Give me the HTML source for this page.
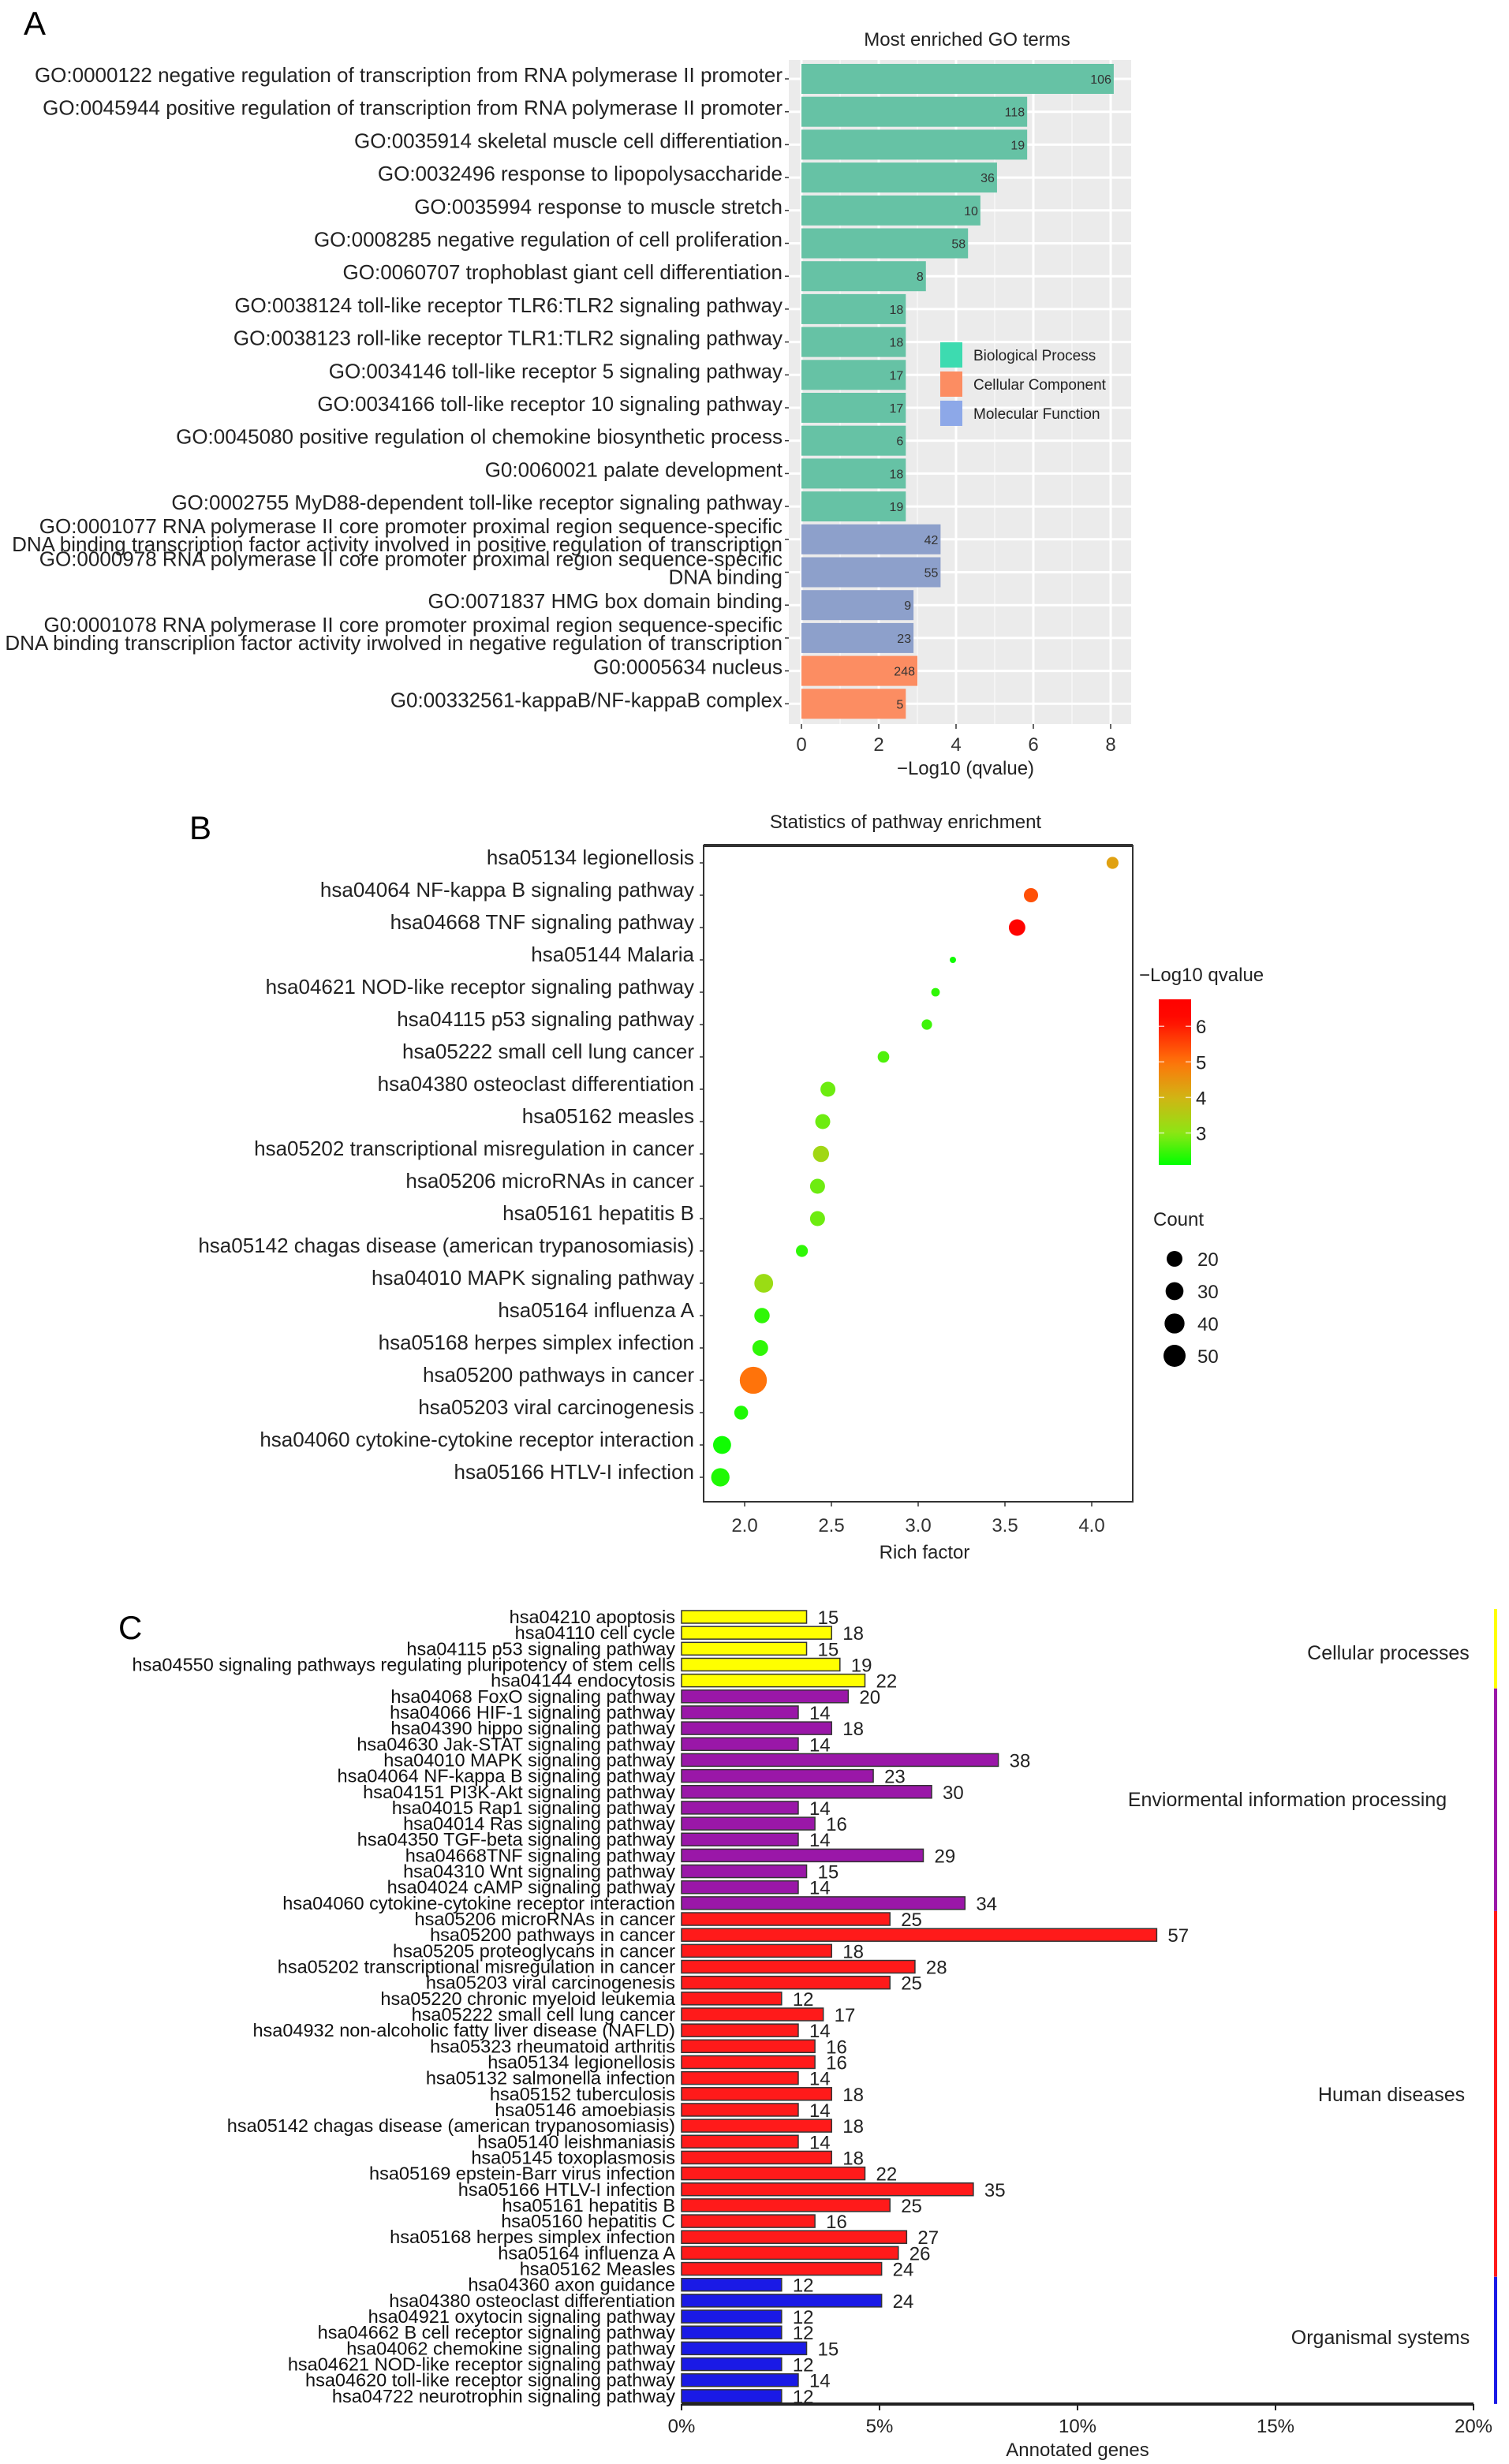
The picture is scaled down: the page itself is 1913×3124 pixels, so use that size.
<!DOCTYPE html>
<html><head><meta charset="utf-8"><style>
html,body{margin:0;padding:0;background:#fff;}
svg{display:block;font-family:"Liberation Sans",sans-serif;}
</style></head><body>
<svg id="fig" width="1913" height="3124" viewBox="0 0 1913 3124" xmlns="http://www.w3.org/2000/svg">
<rect width="1913" height="3124" fill="#fff"/>
<g id="pa"></g>
<g id="pb"></g>
<g id="pc"></g>
</svg>
<script>
// ---------- Panel A data ----------
const goLabels = [
 ["GO:0000122 negative regulation of transcription from RNA polymerase II promoter"],
 ["GO:0045944 positive regulation of transcription from RNA polymerase II promoter"],
 ["GO:0035914 skeletal muscle cell differentiation"],
 ["GO:0032496 response to lipopolysaccharide"],
 ["GO:0035994 response to muscle stretch"],
 ["GO:0008285 negative regulation of cell proliferation"],
 ["GO:0060707 trophoblast giant cell differentiation"],
 ["GO:0038124 toll-like receptor TLR6:TLR2 signaling pathway"],
 ["GO:0038123 roll-like receptor TLR1:TLR2 signaling pathway"],
 ["GO:0034146 toll-like receptor 5 signaling pathway"],
 ["GO:0034166 toll-like receptor 10 signaling pathway"],
 ["GO:0045080 positive regulation ol chemokine biosynthetic process"],
 ["G0:0060021 palate development"],
 ["GO:0002755 MyD88-dependent toll-like receptor signaling pathway"],
 ["GO:0001077 RNA polymerase II core promoter proximal region sequence-specific","DNA binding transcription factor activity involved in positive regulation of transcription"],
 ["GO:0000978 RNA polymerase II core promoter proximal region sequence-specific","DNA binding"],
 ["GO:0071837 HMG box domain binding"],
 ["G0:0001078 RNA polymerase II core promoter proximal region sequence-specific","DNA binding transcriplion factor activity irwolved in negative regulation of transcription"],
 ["G0:0005634 nucleus"],
 ["G0:00332561-kappaB/NF-kappaB complex"]
];
const goValues = [8.08,5.84,5.84,5.06,4.63,4.31,3.22,2.7,2.7,2.7,2.7,2.7,2.7,2.7,3.6,3.6,2.9,2.9,3.0,2.7];
const goCounts = [106,118,19,36,10,58,8,18,18,17,17,6,18,19,42,55,9,23,248,5];
const goTypes = ["BP","BP","BP","BP","BP","BP","BP","BP","BP","BP","BP","BP","BP","BP","MF","MF","MF","MF","CC","CC"];
const goTicks = [0,2,4,6,8];

// ---------- Panel B data ----------
const pwLabels = ["hsa05134 legionellosis","hsa04064 NF-kappa B signaling pathway","hsa04668 TNF signaling pathway","hsa05144 Malaria","hsa04621 NOD-like receptor signaling pathway","hsa04115 p53 signaling pathway","hsa05222 small cell lung cancer","hsa04380 osteoclast differentiation","hsa05162 measles","hsa05202 transcriptional misregulation in cancer","hsa05206 microRNAs in cancer","hsa05161 hepatitis B","hsa05142 chagas disease (american trypanosomiasis)","hsa04010 MAPK signaling pathway","hsa05164 influenza A","hsa05168 herpes simplex infection","hsa05200 pathways in cancer","hsa05203 viral carcinogenesis","hsa04060 cytokine-cytokine receptor interaction","hsa05166 HTLV-I infection"];
const pwRich = [4.12,3.65,3.57,3.20,3.10,3.05,2.80,2.48,2.45,2.44,2.42,2.42,2.33,2.11,2.10,2.09,2.05,1.98,1.87,1.86];
const pwQ = [4.3,5.4,6.6,2.2,2.4,2.5,2.6,2.8,2.8,3.3,2.8,2.8,2.4,3.2,2.4,2.4,5.0,2.3,2.2,2.3];
const pwCount = [17,23,29,2,8,13,16,25,25,28,25,25,17,35,26,27,57,22,33,34];
const pwTicks = [2.0,2.5,3.0,3.5,4.0];
const qTicks = [3,4,5,6];
const countLegend = [20,30,40,50];

// ---------- Panel C data ----------
const kgLabels = ["hsa04210 apoptosis","hsa04110 cell cycle","hsa04115 p53 signaling pathway","hsa04550 signaling pathways regulating pluripotency of stem cells","hsa04144 endocytosis","hsa04068 FoxO signaling pathway","hsa04066 HIF-1 signaling pathway","hsa04390 hippo signaling pathway","hsa04630 Jak-STAT signaling pathway","hsa04010 MAPK signaling pathway","hsa04064 NF-kappa B signaling pathway","hsa04151 PI3K-Akt signaling pathway","hsa04015 Rap1 signaling pathway","hsa04014 Ras signaling pathway","hsa04350 TGF-beta signaling pathway","hsa04668TNF signaling pathway","hsa04310 Wnt signaling pathway","hsa04024 cAMP signaling pathway","hsa04060 cytokine-cytokine receptor interaction","hsa05206 microRNAs in cancer","hsa05200 pathways in cancer","hsa05205 proteoglycans in cancer","hsa05202 transcriptional misregulation in cancer","hsa05203 viral carcinogenesis","hsa05220 chronic myeloid leukemia","hsa05222 small cell lung cancer","hsa04932 non-alcoholic fatty liver disease (NAFLD)","hsa05323 rheumatoid arthritis","hsa05134 legionellosis","hsa05132 salmonella infection","hsa05152 tuberculosis","hsa05146 amoebiasis","hsa05142 chagas disease (american trypanosomiasis)","hsa05140 leishmaniasis","hsa05145 toxoplasmosis","hsa05169 epstein-Barr virus infection","hsa05166 HTLV-I infection","hsa05161 hepatitis B","hsa05160 hepatitis C","hsa05168 herpes simplex infection","hsa05164 influenza A","hsa05162 Measles","hsa04360 axon guidance","hsa04380 osteoclast differentiation","hsa04921 oxytocin signaling pathway","hsa04662 B cell receptor signaling pathway","hsa04062 chemokine signaling pathway","hsa04621 NOD-like receptor signaling pathway","hsa04620 toll-like receptor signaling pathway","hsa04722 neurotrophin signaling pathway"];
const kgCounts = [15,18,15,19,22,20,14,18,14,38,23,30,14,16,14,29,15,14,34,25,57,18,28,25,12,17,14,16,16,14,18,14,18,14,18,22,35,25,16,27,26,24,12,24,12,12,15,12,14,12];
const kgGroups = ["CP","CP","CP","CP","CP","EIP","EIP","EIP","EIP","EIP","EIP","EIP","EIP","EIP","EIP","EIP","EIP","EIP","EIP","HD","HD","HD","HD","HD","HD","HD","HD","HD","HD","HD","HD","HD","HD","HD","HD","HD","HD","HD","HD","HD","HD","HD","OS","OS","OS","OS","OS","OS","OS","OS"];
const kgGroupNames = {CP:"Cellular processes",EIP:"Enviormental information processing",HD:"Human diseases",OS:"Organismal systems"};
const kgTotal = 475;
const kgTicks = [0,5,10,15,20];

const NS="http://www.w3.org/2000/svg";
function mk(parent,tag,attrs,text){const e=document.createElementNS(NS,tag);for(const k in attrs)e.setAttribute(k,attrs[k]);if(text!==undefined)e.textContent=text;parent.appendChild(e);return e;}

// ================= Panel A =================
(function(){
 const g=document.getElementById('pa');
 const t=mk(g,'text',{x:30,y:44,'font-size':42},'A');
 
 
 const x0=1016,ux=49,bgL=1000,bgR=1434,bgT=76,bgB=918;
 const xs=v=>x0+v*ux, ys=i=>100+i*41.7;
 const bg=mk(g,'rect',{x:bgL,y:bgT,width:bgR-bgL,height:bgB-bgT,fill:'#ebebeb'});
 
 
 for(let v=1;v<8.5;v+=2){mk(g,'line',{x1:xs(v),x2:xs(v),y1:bgT,y2:bgB,stroke:'#f7f7f7','stroke-width':1.5});}
 goTicks.forEach(v=>mk(g,'line',{x1:xs(v),x2:xs(v),y1:bgT,y2:bgB,stroke:'#fff','stroke-width':3}));
 const col={BP:'#66c2a5',CC:'#fc8d62',MF:'#8da0cb'};
 goLabels.forEach((lab,i)=>{
  const y=ys(i);
  mk(g,'line',{x1:bgL,x2:bgR,y1:y,y2:y,stroke:'#fff','stroke-width':3});
 });
 goLabels.forEach((lab,i)=>{
  const y=ys(i);
  const b=mk(g,'rect',{x:xs(0),y:y-19,width:xs(goValues[i])-xs(0),height:38,fill:col[goTypes[i]]});
  
  
  const c=mk(g,'text',{x:xs(goValues[i])-3,y:y+6,'font-size':16,'text-anchor':'end',fill:'#333'},goCounts[i]);
  
  
  mk(g,'line',{x1:bgL-5,x2:bgL,y1:y,y2:y,stroke:'#333','stroke-width':1.5});
  const tx=mk(g,'text',{x:992,y:0,'font-size':26,'text-anchor':'end',fill:'#222'});
  
  
  if(lab.length===1){tx.setAttribute('y',y+4);tx.textContent=lab[0];}
  else{mk(tx,'tspan',{x:992,y:y-8},lab[0]);mk(tx,'tspan',{x:992,y:y+15},lab[1]);}
 });
 goTicks.forEach(v=>{
  mk(g,'line',{x1:xs(v),x2:xs(v),y1:bgB,y2:bgB+6,stroke:'#333','stroke-width':1.5});
  const tl=mk(g,'text',{x:xs(v),y:bgB+34,'font-size':24,'text-anchor':'middle',fill:'#333'},v);
  
  
 });
 const at=mk(g,'text',{x:1224,y:982,'font-size':24,'text-anchor':'middle',fill:'#222'},'\u2212Log10 (qvalue)');
 
 
 const tt=mk(g,'text',{x:1226,y:58,'font-size':24,'text-anchor':'middle',fill:'#222'},'Most enriched GO terms');
 
 
 [['#3ddbb0','Biological Process'],['#fc8d62','Cellular Component'],['#8da8e8','Molecular Function']].forEach((e,i)=>{
  const y=434+i*37;
  const s=mk(g,'rect',{x:1192,y:y,width:28,height:32,fill:e[0]});
  
  
  const l=mk(g,'text',{x:1234,y:y+23,'font-size':19,fill:'#222'},e[1]);
  
  
 });
})();

// ================= Panel B =================
function qColor(q){
 const stops=[[2.1,[0,255,0]],[3,[140,230,20]],[4,[210,180,20]],[5,[255,115,10]],[6.2,[255,10,0]],[6.8,[255,0,0]]];
 if(q<=stops[0][0])return 'rgb(0,255,0)';
 for(let i=1;i<stops.length;i++){if(q<=stops[i][0]){const a=stops[i-1],b=stops[i],t=(q-a[0])/(b[0]-a[0]);return 'rgb('+a[1].map((c,k)=>Math.round(c+(b[1][k]-c)*t)).join(',')+')';}}
 return 'rgb(255,0,0)';
}
function rSize(c){return 3.5+0.24*c;}
(function(){
 const g=document.getElementById('pb');
 const t=mk(g,'text',{x:240,y:1064,'font-size':42},'B');
 
 
 const L=892,R=1436,T=1072,B=1904;
 const xs=v=>944+(v-2)*220, ys=i=>1094+i*41;
 const box=mk(g,'rect',{x:L,y:T,width:R-L,height:B-T,fill:'none',stroke:'#333','stroke-width':2});
 
 
 mk(g,'line',{x1:L,x2:R,y1:T,y2:T,stroke:'#333','stroke-width':4});
 const tt=mk(g,'text',{x:1148,y:1050,'font-size':24,'text-anchor':'middle',fill:'#222'},'Statistics of pathway enrichment');
 
 
 pwLabels.forEach((lab,i)=>{
  const y=ys(i);
  mk(g,'line',{x1:L-5,x2:L,y1:y,y2:y,stroke:'#333','stroke-width':1.5});
  const tx=mk(g,'text',{x:880,y:y+2,'font-size':26,'text-anchor':'end',fill:'#222'},lab);
  
  
  const d=mk(g,'circle',{cx:xs(pwRich[i]),cy:y,r:rSize(pwCount[i]),fill:qColor(pwQ[i])});
  
  
 });
 pwTicks.forEach(v=>{
  mk(g,'line',{x1:xs(v),x2:xs(v),y1:B,y2:B+6,stroke:'#333','stroke-width':1.5});
  const tl=mk(g,'text',{x:xs(v),y:B+38,'font-size':24,'text-anchor':'middle',fill:'#333'},v.toFixed(1));
  
  
 });
 const at=mk(g,'text',{x:1172,y:1976,'font-size':24,'text-anchor':'middle',fill:'#222'},'Rich factor');
 
 
 const ct=mk(g,'text',{x:1444,y:1244,'font-size':24,fill:'#222'},'\u2212Log10 qvalue');
 
 
 const defs=mk(g,'defs',{});
 const lg=mk(defs,'linearGradient',{id:'qg',x1:0,y1:1,x2:0,y2:0});
 const cbT=1267,cbB=1477,qLo=2.1,qHi=6.76;
 const qy=q=>cbB-(q-qLo)/(qHi-qLo)*(cbB-cbT);
 for(let k=0;k<=20;k++){const q=qLo+(qHi-qLo)*k/20;mk(lg,'stop',{offset:(k/20),'stop-color':qColor(q)});}
 const cb=mk(g,'rect',{x:1469,y:cbT,width:41,height:cbB-cbT,fill:'url(#qg)'});
 
 
 qTicks.forEach(q=>{
  mk(g,'line',{x1:1469,x2:1476,y1:qy(q),y2:qy(q),stroke:'#fff','stroke-width':1.5,opacity:0.7});
  mk(g,'line',{x1:1503,x2:1510,y1:qy(q),y2:qy(q),stroke:'#fff','stroke-width':1.5,opacity:0.7});
  const l=mk(g,'text',{x:1516,y:qy(q)+9,'font-size':24,fill:'#222'},q);
  
  
 });
 const cnt=mk(g,'text',{x:1462,y:1554,'font-size':24,fill:'#222'},'Count');
 
 
 const legR=[10.5,12.5,14.5,16.5];
 countLegend.forEach((c,i)=>{
  const y=1596+i*41;
  const d=mk(g,'circle',{cx:1489,cy:y,r:legR[i]/1.5+3,fill:'#000'});
  
  
  const l=mk(g,'text',{x:1518,y:y+9,'font-size':24,fill:'#222'},c);
  
  
 });
})();

// ================= Panel C =================
(function(){
 const g=document.getElementById('pc');
 const t=mk(g,'text',{x:150,y:2078,'font-size':42},'C');
 
 
 const x0=864,ux=50.2;
 const xs=p=>x0+p*ux, ys=i=>2050+i*20.16;
 const col={CP:'#ffff00',EIP:'#9a17a8',HD:'#ff1a1a',OS:'#1a1ae6'};
 kgLabels.forEach((lab,i)=>{
  const y=ys(i),p=kgCounts[i]/kgTotal*100;
  const b=mk(g,'rect',{x:xs(0),y:y-8,width:xs(p)-xs(0),height:16,fill:col[kgGroups[i]],stroke:'#333','stroke-width':1.5});
  
  
  const tx=mk(g,'text',{x:856,y:y+8,'font-size':23.5,'text-anchor':'end',fill:'#111'},lab);
  
  
  const v=mk(g,'text',{x:xs(p)+14,y:y+9,'font-size':24,fill:'#222'},kgCounts[i]);
  
  
 });
 const ax=mk(g,'line',{x1:x0,x2:xs(20),y1:3048,y2:3048,stroke:'#222','stroke-width':4});
 
 
 kgTicks.forEach(p=>{
  mk(g,'line',{x1:xs(p),x2:xs(p),y1:3048,y2:3056,stroke:'#222','stroke-width':2});
  const tl=mk(g,'text',{x:xs(p),y:3084,'font-size':24,'text-anchor':'middle',fill:'#222'},p+'%');
  
  
 });
 const at=mk(g,'text',{x:1366,y:3114,'font-size':24,'text-anchor':'middle',fill:'#222'},'Annotated genes');
 
 
 const lc={CP:'#ffff00',EIP:'#9a17a8',HD:'#ff1a1a',OS:'#1a1ae6'};
 const lp={CP:[1760,2104],EIP:[1632,2290],HD:[1764,2664],OS:[1750,2972]};
 Object.keys(kgGroupNames).forEach(k=>{
  let a=-1,b=-1;kgGroups.forEach((gg,i)=>{if(gg===k){if(a<0)a=i;b=i;}});
  const l=mk(g,'line',{x1:1896,x2:1896,y1:ys(a)-10,y2:ys(b)+10,stroke:lc[k],'stroke-width':4});
  
  
  const tx=mk(g,'text',{x:lp[k][0],y:lp[k][1],'font-size':25,'text-anchor':'middle',fill:'#222'},kgGroupNames[k]);
  
  
 });
})();
</script>
</body></html>
